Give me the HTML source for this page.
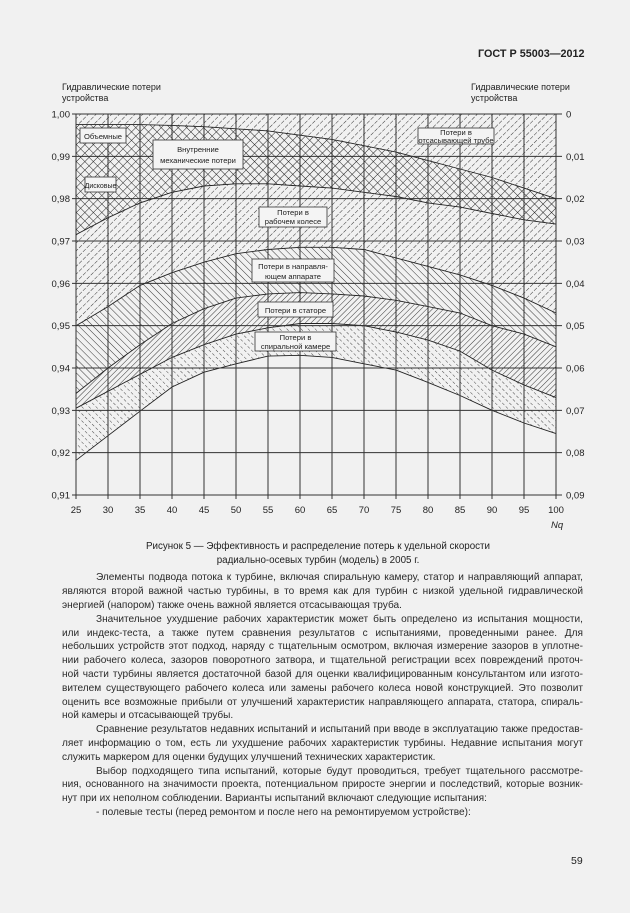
<!DOCTYPE html>
<html><head><meta charset="utf-8">
<style>
html,body{margin:0;padding:0;background:#f1f1f1;}
body{width:630px;height:913px;position:relative;overflow:hidden;font-family:"Liberation Sans",Arial,sans-serif;color:#222;}
.a{position:absolute;white-space:nowrap;}
.t{position:absolute;left:62px;width:521px;font-size:10.1px;line-height:13.8px;text-align:justify;text-align-last:justify;white-space:nowrap;color:#2a2a2a;}
.t.i{left:96px;width:487px;}
.t.l{text-align-last:left;}
svg text{font-family:"Liberation Sans",Arial,sans-serif;}
</style></head><body>
<div class="a" style="left:478px;top:48px;font-size:10.8px;font-weight:bold;">ГОСТ Р 55003—2012</div>
<div class="a" style="left:62px;top:82px;font-size:9px;line-height:11px;">Гидравлические потери<br>устройства</div>
<div class="a" style="left:471px;top:82px;font-size:9px;line-height:11px;">Гидравлические потери<br>устройства</div>

<svg id="ch" width="630" height="540" style="position:absolute;left:0;top:0" xmlns="http://www.w3.org/2000/svg">
<defs>
<pattern id="fs" width="5.5" height="5.5" patternUnits="userSpaceOnUse" patternTransform="rotate(45)">
<line x1="0" y1="0" x2="0" y2="5.5" stroke="#333" stroke-width="1" stroke-dasharray="4 1.5"/></pattern>
<pattern id="ch2" width="6" height="6" patternUnits="userSpaceOnUse" patternTransform="rotate(45)">
<line x1="0" y1="0" x2="0" y2="6" stroke="#222" stroke-width="1"/><line x1="0" y1="0" x2="6" y2="0" stroke="#222" stroke-width="1"/></pattern>
<pattern id="bs" width="5" height="5" patternUnits="userSpaceOnUse" patternTransform="rotate(-45)">
<line x1="0" y1="0" x2="0" y2="5" stroke="#222" stroke-width="0.9"/></pattern>
<pattern id="st" width="4" height="4" patternUnits="userSpaceOnUse" patternTransform="rotate(45)">
<line x1="0" y1="0" x2="0" y2="4" stroke="#222" stroke-width="0.9"/></pattern>
<pattern id="sp" width="5" height="5" patternUnits="userSpaceOnUse" patternTransform="rotate(-45)">
<line x1="0" y1="0" x2="0" y2="5" stroke="#333" stroke-width="0.9" stroke-dasharray="3 2"/></pattern>
</defs>
<g id="areas"></g>
<g id="grid" stroke="#333" stroke-width="1"></g>
<g id="lbl" font-size="9.5" fill="#222"></g>
<g font-size="7.6" fill="#222" text-anchor="middle">
<rect x="80" y="128" width="46" height="15" fill="#f4f4f4" stroke="#333" stroke-width="0.8"/><text x="103" y="139">Объемные</text>
<rect x="153" y="140" width="90" height="29" fill="#f4f4f4" stroke="#333" stroke-width="0.8"/><text x="198" y="152">Внутренние</text><text x="198" y="163">механические потери</text>
<rect x="85" y="177" width="31" height="15" fill="#f4f4f4" stroke="#333" stroke-width="0.8"/><text x="100.5" y="188" font-size="7">Дисковые</text>
<rect x="259" y="207" width="68" height="20" fill="#f4f4f4" stroke="#333" stroke-width="0.8"/><text x="293" y="215">Потери в</text><text x="293" y="224">рабочем колесе</text>
<rect x="252" y="259" width="82" height="23" fill="#f4f4f4" stroke="#333" stroke-width="0.8"/><text x="293" y="269">Потери в направля-</text><text x="293" y="279">ющем аппарате</text>
<rect x="418" y="128" width="76" height="16" fill="#f4f4f4" stroke="#333" stroke-width="0.8"/><text x="456" y="135">Потери в</text><text x="456" y="143">отсасывающей трубе</text>
<rect x="258" y="302" width="75" height="15" fill="#f4f4f4" stroke="#333" stroke-width="0.8"/><text x="295.5" y="313">Потери в статоре</text>
<rect x="255" y="332" width="81" height="19" fill="#f4f4f4" stroke="#333" stroke-width="0.8"/><text x="295.5" y="340">Потери в</text><text x="295.5" y="349">спиральной камере</text>
</g>
<text x="551" y="528" font-size="9.5" font-style="italic" fill="#222">Nq</text>
</svg>
<script>
(function(){
var X=function(n){return 76+(n-25)*6.4}, Y=function(v){return 114+(1-v)*4233.3};
var N=[];for(var n=25;n<=100;n+=5)N.push(n);
var C1=[0.9975,0.9975,0.9975,0.9973,0.997,0.9965,0.996,0.995,0.994,0.9925,0.991,0.989,0.987,0.985,0.9825,0.980];
var C3=[0.9715,0.9755,0.979,0.9815,0.983,0.9835,0.9835,0.983,0.9825,0.9815,0.9805,0.979,0.978,0.9765,0.975,0.974];
var C4=[0.950,0.9545,0.9595,0.9625,0.965,0.967,0.968,0.9685,0.9685,0.968,0.966,0.964,0.962,0.9595,0.9565,0.953];
var C5=[0.934,0.940,0.9455,0.9505,0.954,0.9565,0.9575,0.9578,0.9575,0.957,0.956,0.9545,0.953,0.950,0.948,0.945];
var C6=[0.9305,0.9345,0.9385,0.9425,0.9455,0.948,0.9495,0.9505,0.9505,0.950,0.9485,0.9466,0.944,0.9395,0.936,0.933];
var C7=[0.9182,0.924,0.9298,0.9355,0.939,0.941,0.9428,0.943,0.9425,0.941,0.9395,0.9366,0.9335,0.930,0.927,0.9245];
function pts(c){return N.map(function(n,i){return X(n).toFixed(1)+','+Y(c[i]).toFixed(1)});}
function band(a,b){var p=pts(a),q=pts(b).reverse();return 'M'+p.join('L')+'L'+q.join('L')+'Z';}
var top=N.map(function(){return 1.0});
var s='';
s+='<path d="'+band(top,C4)+'" fill="url(#fs)"/>';
s+='<path d="'+band(C1,C3)+'" fill="#f1f1f1"/><path d="'+band(C1,C3)+'" fill="url(#ch2)"/>';
s+='<path d="'+band(C4,C5)+'" fill="#f1f1f1"/><path d="'+band(C4,C5)+'" fill="url(#bs)"/>';
s+='<path d="'+band(C5,C6)+'" fill="#f1f1f1"/><path d="'+band(C5,C6)+'" fill="url(#st)"/>';
s+='<path d="'+band(C6,C7)+'" fill="#f1f1f1"/><path d="'+band(C6,C7)+'" fill="url(#sp)"/>';
[C1,C3,C4,C5,C6,C7].forEach(function(c){s+='<polyline points="'+pts(c).join(' ')+'" fill="none" stroke="#222" stroke-width="0.9"/>';});
document.getElementById('areas').innerHTML=s;
var g='';
for(var n=25;n<=100;n+=5){g+='<line x1="'+X(n)+'" y1="114" x2="'+X(n)+'" y2="499"/>';}
for(var k=0;k<=9;k++){var y=Y(1-k*0.01);g+='<line x1="72" y1="'+y+'" x2="562" y2="'+y+'"/>';}
document.getElementById('grid').innerHTML=g;
var l='';
var L=['1,00','0,99','0,98','0,97','0,96','0,95','0,94','0,93','0,92','0,91'];
var R=['0','0,01','0,02','0,03','0,04','0,05','0,06','0,07','0,08','0,09'];
for(var k=0;k<=9;k++){var y=Y(1-k*0.01)+3.5;l+='<text x="70" y="'+y+'" text-anchor="end">'+L[k]+'</text><text x="566" y="'+y+'">'+R[k]+'</text>';}
for(var n=25;n<=100;n+=5){l+='<text x="'+X(n)+'" y="513" text-anchor="middle">'+n+'</text>';}
document.getElementById('lbl').innerHTML=l;
})();
</script>

<div class="a" style="left:0;width:636px;text-align:center;top:540px;font-size:9.8px;line-height:14px;">Рисунок 5 — Эффективность и распределение потерь к удельной скорости<br>радиально-осевых турбин (модель) в 2005 г.</div>

<div class="t i" style="top:571px">Элементы подвода потока к турбине, включая спиральную камеру, статор и направляющий аппарат,</div>
<div class="t" style="top:585px">являются второй важной частью турбины, в то время как для турбин с низкой удельной гидравлической</div>
<div class="t l" style="top:599px">энергией (напором) также очень важной является отсасывающая труба.</div>
<div class="t i" style="top:613px">Значительное ухудшение рабочих характеристик может быть определено из испытания мощности,</div>
<div class="t" style="top:627px">или индекс-теста, а также путем сравнения результатов с испытаниями, проведенными ранее. Для</div>
<div class="t" style="top:640px">небольших устройств этот подход, наряду с тщательным осмотром, включая измерение зазоров в уплотне-</div>
<div class="t" style="top:654px">нии рабочего колеса, зазоров поворотного затвора, и тщательной регистрации всех повреждений проточ-</div>
<div class="t" style="top:668px">ной части турбины является достаточной базой для оценки квалифицированным консультантом или изгото-</div>
<div class="t" style="top:682px">вителем существующего рабочего колеса или замены рабочего колеса новой конструкцией. Это позволит</div>
<div class="t" style="top:696px">оценить все возможные прибыли от улучшений характеристик направляющего аппарата, статора, спираль-</div>
<div class="t l" style="top:709px">ной камеры и отсасывающей трубы.</div>
<div class="t i" style="top:723px">Сравнение результатов недавних испытаний и испытаний при вводе в эксплуатацию также предостав-</div>
<div class="t" style="top:737px">ляет информацию о том, есть ли ухудшение рабочих характеристик турбины. Недавние испытания могут</div>
<div class="t l" style="top:751px">служить маркером для оценки будущих улучшений технических характеристик.</div>
<div class="t i" style="top:765px">Выбор подходящего типа испытаний, которые будут проводиться, требует тщательного рассмотре-</div>
<div class="t" style="top:778px">ния, основанного на значимости проекта, потенциальном приросте энергии и последствий, которые возник-</div>
<div class="t l" style="top:792px">нут при их неполном соблюдении. Варианты испытаний включают следующие испытания:</div>
<div class="t i l" style="top:806px">- полевые тесты (перед ремонтом и после него на ремонтируемом устройстве):</div>
<div class="a" style="left:571px;top:855px;font-size:10.5px;">59</div>
</body></html>
